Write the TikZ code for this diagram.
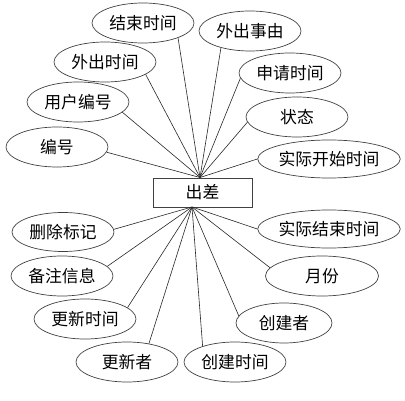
\documentclass[tikz,border=0pt]{standalone}
\usepackage{fontspec}
\newfontfamily\cjk{Noto Sans CJK SC}
\usetikzlibrary{
    shapes.geometric,
    calc
}
\tikzset{
    attr/.style={ellipse, draw=black!75, line width=0.7pt, minimum width=102pt,
        minimum height=40pt, inner sep=0pt, font=\cjk\fontsize{16.8}{18}\selectfont},
    ent/.style={rectangle, draw=black!75, line width=0.7pt, minimum width=99pt,
        minimum height=29pt, inner sep=0pt, font=\cjk\fontsize{16.8}{18}\selectfont},
    link/.style={draw=black!85, line width=0.6pt}
}

\begin{document}
\begin{tikzpicture}[x=1pt, y=-1pt]
    \useasboundingbox (0, 0) rectangle (405, 401);
    \node[ent] (cc) at (202.5, 192.5) {出差};
    \coordinate (up) at (200, 177.5);
    \coordinate (dn) at (192, 207);
    % upper attributes
    \node[attr] (bh) at (57, 147) {编号};
    \node[attr] (yhbh) at (78, 102) {用户编号};
    \node[attr] (wcsj) at (105, 62) {外出时间};
    \node[attr] (jssj) at (143, 23) {结束时间};
    \node[attr] (wcsy) at (250, 31) {外出事由};
    \node[attr] (sqsj) at (290, 73) {申请时间};
    \node[attr] (zt) at (297, 117) {状态};
    \node[attr, minimum width=117pt, minimum height=38pt] (sjks) at (329, 159) {实际开始时间};
    % lower attributes
    \node[attr, minimum height=39pt] (scbj) at (63, 232) {删除标记};
    \node[attr] (bzxx) at (62, 276) {备注信息};
    \node[attr] (gxsj) at (85, 319) {更新时间};
    \node[attr] (gxz) at (127, 362) {更新者};
    \node[attr] (cjsj) at (235, 362) {创建时间};
    \node[attr, minimum width=96pt] (cjz) at (284, 323) {创建者};
    \node[attr, minimum width=113pt] (yf) at (322, 276) {月份};
    \node[attr, minimum width=117pt, minimum height=38pt] (sjjs) at (329, 229) {实际结束时间};
    \foreach \n/\a in {bh/-6, yhbh/-13, wcsj/-17, jssj/-23, wcsy/-150, sqsj/186, zt/186, sjks/180} {
        \draw[link] (\n.\a) -- (up);
    }
    \foreach \n/\a in {scbj/3, bzxx/12, gxsj/15, gxz/40, cjsj/154, cjz/171, yf/171, sjjs/180} {
        \draw[link] (dn) -- (\n.\a);
    }
\end{tikzpicture}
\end{document}
